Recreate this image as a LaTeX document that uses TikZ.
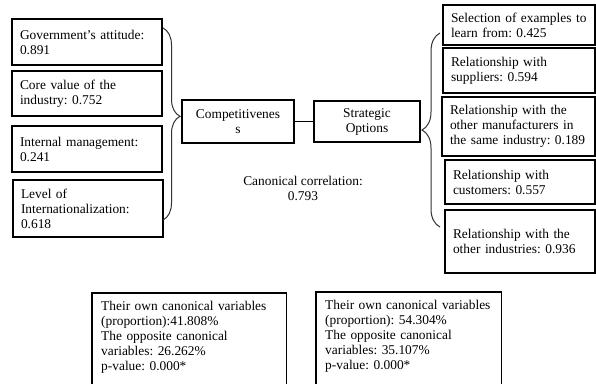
\documentclass[tikz,border=0pt]{standalone}
\usepackage{fontspec}
\setmainfont{Liberation Serif}
\usetikzlibrary{decorations.pathreplacing}
\frenchspacing

\begin{document}
\begin{tikzpicture}[x=1pt,y=-1pt,
	every node/.style={font=\fontsize{13.4}{15}\selectfont},
	box/.style={draw,line width=1.3pt,align=left,inner xsep=8pt,text width=#1},
	box/.default=134pt,
	note/.style={align=left,inner xsep=9pt,inner ysep=8pt,text width=#1,anchor=north west},
	brc/.style={decorate,line width=1pt,black!80}]
\useasboundingbox (0,0) rectangle (596,383);
\node[box,minimum height=46pt] (gov) at (87,42) {Government's attitude:\\0.891};
\node[box,minimum height=45pt] (core) at (87,93.5) {Core value of the\\industry: 0.752};
\node[box,minimum height=46pt] (intern) at (87,149) {Internal management:\\0.241};
\node[box,minimum height=57pt] (level) at (88,208.5) {Level of\\Internationalization:\\0.618};
\node[draw,line width=1.3pt,minimum width=112pt,minimum height=43pt,align=center] (comp) at (238,121.5) {Competitivenes\\s};
\node[draw,line width=1.3pt,minimum width=106pt,minimum height=41pt,align=center] (strat) at (367,121.5) {Strategic\\Options};
\draw[line width=1.3pt] (comp) -- (strat);
\node[align=center] (canon) at (303,188) {Canonical correlation:\\0.793};
\node[box=136pt,minimum height=40pt] (select) at (519,25) {Selection of examples to\\learn from: 0.425};
\node[box=136pt,minimum height=45pt] (suppl) at (519,70.5) {Relationship with\\suppliers: 0.594};
\node[box=137pt,minimum height=59pt] (manuf) at (518.5,126.5) {Relationship with the\\other manufacturers in\\the same industry: 0.189};
\node[box=134pt,minimum height=44pt] (cust) at (520,182) {Relationship with\\customers: 0.557};
\node[box=134pt,minimum height=63pt] (indus) at (520,241.5) {Relationship with the\\other industries: 0.936};
\coordinate (lbt) at (163,28);
\coordinate (lbb) at (163,220);
\coordinate (rbb) at (440,227);
\coordinate (rbt) at (440,33);
\draw[brc,decoration={brace,amplitude=17pt,aspect=0.46}] (lbt) -- (lbb);
\draw[brc,decoration={brace,amplitude=18pt,aspect=0.5}] (rbb) -- (rbt);
\node[note=176pt] (ownA) at (92,293) {Their own canonical variables\\(proportion):41.808\%\\The opposite canonical\\variables: 26.262\%\\p-value: 0.000*};
\draw[line width=1.3pt] (ownA.north west) rectangle ([yshift=-30pt]ownA.south east);
\node[note=167pt] (ownB) at (316,292) {Their own canonical variables\\(proportion): 54.304\%\\The opposite canonical\\variables: 35.107\%\\p-value: 0.000*};
\draw[line width=1.3pt] (ownB.north west) rectangle ([yshift=-30pt]ownB.south east);
\end{tikzpicture}
\end{document}
